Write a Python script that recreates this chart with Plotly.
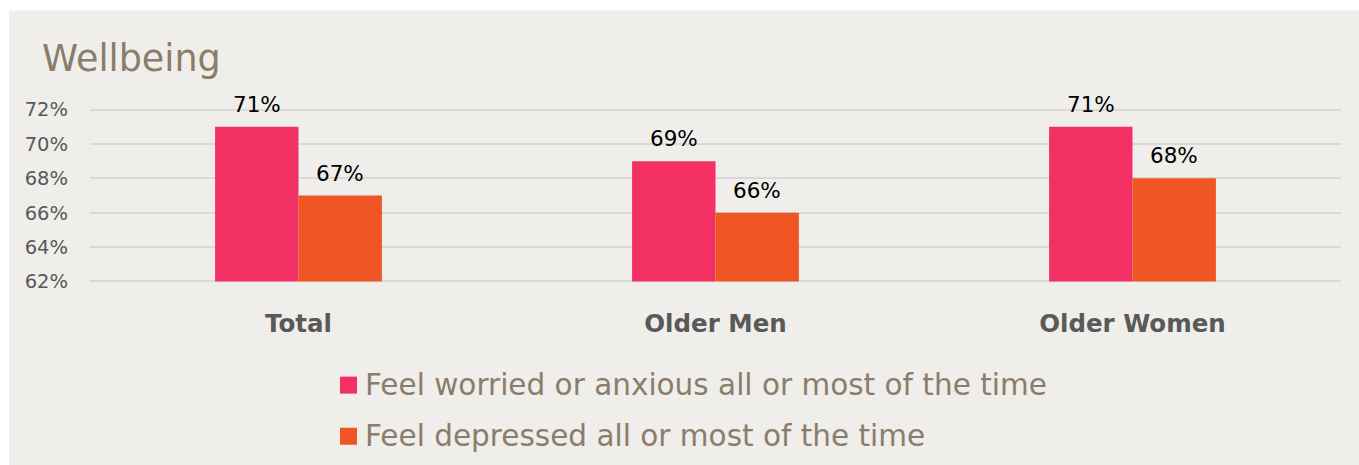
import plotly.graph_objects as go

categories = ["Total", "Older Men", "Older Women"]
series_names = ["Feel worried or anxious all or most of the time",
                "Feel depressed all or most of the time"]
worried = [71, 69, 71]
depressed = [67, 66, 68]
y_ticks = [62, 64, 66, 68, 70, 72]
y_ticktext = [f"{t}%" for t in y_ticks]

colors = ["#F23064", "#F05623"]
FONT = "DejaVu Sans"
W, H = 1359, 465
Y0, Y1 = 61.85, 72.15
px_per = (281.5 - 110) / 10.0
ML, MR = 90, 18
MT = 110 - (Y1 - 72) * px_per
MB = H - (281.5 + (62 - Y0) * px_per)
pw = W - ML - MR
ph = H - MT - MB


def xp(px):
    return (px - ML) / pw


def yp(py):
    return (H - MB - py) / ph


fig = go.Figure()
for name, vals, col in zip(series_names, [worried, depressed], colors):
    fig.add_trace(go.Bar(x=categories, y=vals, name=name, base=62,
                         marker=dict(color=col, line=dict(width=0)), showlegend=False))
    fig.data[-1].y = [v - 62 for v in vals]

# data labels
bar_w = pw / len(categories) * 0.4 / 2
for k, vals in enumerate([worried, depressed]):
    shift = -bar_w / 2 if k == 0 else bar_w / 2
    for c, v in zip(categories, vals):
        fig.add_annotation(x=c, y=v, text=f"{v}%", showarrow=False, xshift=shift,
                           yanchor="bottom", yshift=8,
                           font=dict(family=FONT, size=21.5, color="#000000"))

# gray background card
fig.add_shape(type="rect", xref="paper", yref="paper", layer="below",
              x0=xp(9), x1=xp(W + 2), y0=yp(H + 2), y1=yp(11),
              fillcolor="#EFEEEA", line=dict(width=0))

# legend (manual)
row_y = [385, 436]
for name, col, ry in zip(series_names, colors, row_y):
    fig.add_shape(type="rect", xref="paper", yref="paper",
                  x0=xp(340), x1=xp(357), y0=yp(ry + 8.5), y1=yp(ry - 8.5),
                  fillcolor=col, line=dict(width=0))
    fig.add_annotation(xref="paper", yref="paper", x=xp(363), y=yp(ry), text=name,
                       showarrow=False, xanchor="left", yanchor="middle",
                       font=dict(family=FONT, size=29.5, color="#8B7D6B"))

fig.update_layout(
    width=W, height=H,
    margin=dict(l=ML, r=MR, t=MT, b=MB, autoexpand=False),
    paper_bgcolor="#FFFFFF", plot_bgcolor="rgba(0,0,0,0)",
    barmode="group", bargap=0.6, bargroupgap=0,
    showlegend=False,
    title=dict(text="Wellbeing", x=42 / W, xanchor="left", y=1 - 58 / H, yanchor="middle",
               font=dict(family=FONT, size=36.5, color="#8B7D6B")),
    xaxis=dict(showgrid=False, zeroline=False, showline=False, ticks="",
               ticklabelstandoff=22,
               tickfont=dict(family=FONT, size=24.5, color="#595959", weight="bold")),
    yaxis=dict(range=[Y0, Y1], tickvals=y_ticks, ticktext=y_ticktext, showgrid=True,
               gridcolor="#D9D9D9", gridwidth=2, zeroline=False, showline=False,
               ticklabelstandoff=21,
               tickfont=dict(family=FONT, size=19.5, color="#595959")),
)

fig.write_html("out.html", config={"displayModeBar": False},
               post_script="document.body.style.margin='0';document.body.style.padding='0';")
